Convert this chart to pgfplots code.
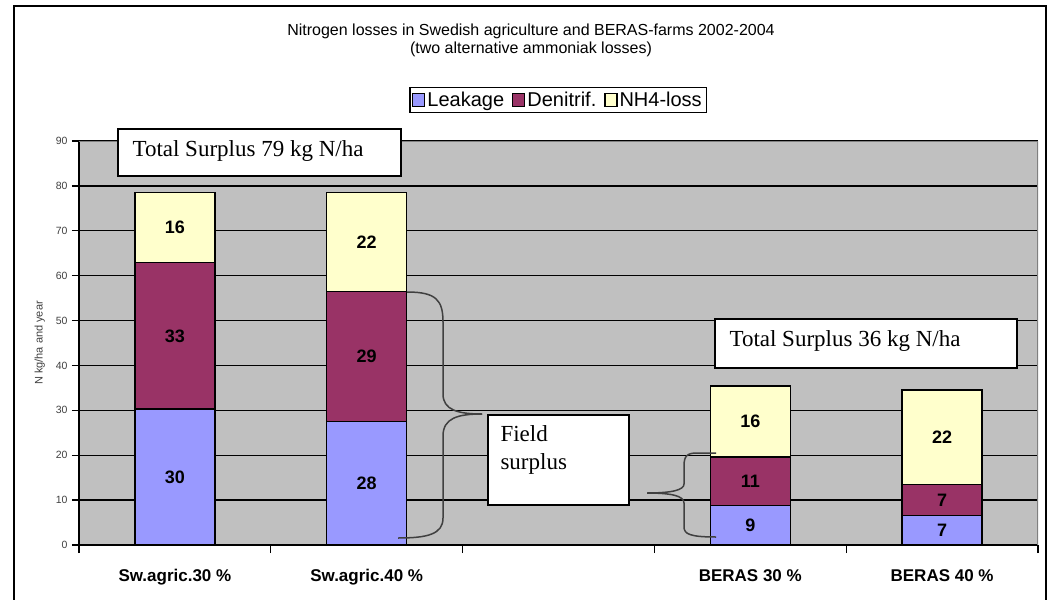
\documentclass[border=0pt]{standalone}
\usepackage{pgfplots}
\usepackage{pgfplotstable}
\pgfplotsset{compat=1.18}
\usepackage{fontspec}
\setmainfont{Liberation Sans}
\newfontfamily\serifbox{Liberation Serif}
\definecolor{leak}{HTML}{9999FF}
\definecolor{deni}{HTML}{993366}
\definecolor{nhf}{HTML}{FFFFCC}
\definecolor{bg}{HTML}{C0C0C0}
\definecolor{bord}{HTML}{808080}

\pgfplotstableread{
x leak deni nh lleak ldeni lnh
0 30.3 32.6 15.6 30 33 16
1 27.5 29.0 22.0 28 29 22
3 8.8 10.8 15.8 9 11 16
4 6.5 7.0 21.0 7 7 22
}\data

\begin{document}
\begin{tikzpicture}[x=1pt,y=1pt]
\path[use as bounding box] (0,0) rectangle (1048,-599);
\draw[line width=2pt] (14,-600) -- (14,-6) -- (1046,-6) -- (1046,-600);
\node[font=\fontsize{16}{19}\selectfont] at (531,-31) {Nitrogen losses in Swedish agriculture and BERAS-farms 2002-2004};
\node[font=\fontsize{16}{19}\selectfont] at (531,-49) {(two alternative ammoniak losses)};
\begin{axis}[
  at={(79pt,-545pt)}, anchor=south west,
  scale only axis, width=959pt, height=404pt,
  xmin=-0.5, xmax=4.5, ymin=0, ymax=90,
  axis background/.style={fill=bg},
  ybar stacked, bar width=80pt,
  axis lines*=left,
  axis line style={black, line width=1.3pt},
  tick align=outside,
  xtick={0,1,3,4},
  xticklabels={Sw.agric.30 \%, Sw.agric.40 \%, BERAS 30 \%, BERAS 40 \%},
  major x tick style={draw=none},
  minor xtick={-0.5,0.5,1.5,2.5,3.5,4.5},
  minor x tick style={black, line width=1.3pt},
  minor tick length=8pt,
  major tick length=7pt,
  ytick={0,10,...,90},
  y tick style={black, line width=1.3pt},
  ymajorgrids,
  major grid style={black, line width=1.3pt},
  xticklabel style={font=\bfseries\fontsize{17}{20}\selectfont, yshift=-14pt},
  yticklabel style={font=\fontsize{10.5}{12}\selectfont, text=black!75, xshift=-1pt},
  /pgf/number format/assume math mode=true,
  ylabel={N kg/ha and year},
  ylabel style={font=\fontsize{11}{13}\selectfont, text=black!75, yshift=4pt},
  legend style={at={(0.4995,1.134)}, anchor=north, legend columns=-1, draw=black, line width=1.5pt,
    font=\fontsize{20}{23}\selectfont, inner sep=2.5pt, /tikz/every even column/.append style={column sep=6pt}},
  legend image code/.code={\draw[#1, line width=1.2pt] (0pt,-6pt) rectangle (12pt,7pt);},
  nodes near coords,
  point meta=explicit symbolic,
  every node near coord/.append style={font=\bfseries\fontsize{18}{21}\selectfont, anchor=center},
]
\addplot[fill=leak, draw=black, line width=1.3pt] table[x=x, y=leak, meta=lleak] {\data};
\addplot[fill=deni, draw=black, line width=1.3pt] table[x=x, y=deni, meta=ldeni] {\data};
\addplot[fill=nhf, draw=black, line width=1.3pt] table[x=x, y=nh, meta=lnh] {\data};
\legend{Leakage, Denitrif., NH4-loss}
\draw[bord, line width=1.5pt] (rel axis cs:0,1) -- (rel axis cs:1,1) -- (rel axis cs:1,0);
\end{axis}
% annotation boxes
\node[draw=black, line width=1.6pt, fill=white, anchor=north west, minimum width=283pt, minimum height=47pt, inner sep=0pt] at (117,-128) {};
\node[font=\serifbox\fontsize{23}{27}\selectfont, anchor=west] at (129,-151) {Total Surplus 79 kg N/ha};
\node[draw=black, line width=1.6pt, fill=white, anchor=north west, minimum width=302pt, minimum height=49pt, inner sep=0pt] at (714,-318) {};
\node[font=\serifbox\fontsize{23}{27}\selectfont, anchor=west] at (726,-341) {Total Surplus 36 kg N/ha};
\node[draw=black, line width=1.6pt, fill=white, anchor=north west, minimum width=141pt, minimum height=90pt, inner sep=0pt] at (487,-414) {};
\node[font=\serifbox\fontsize{23}{28}\selectfont, anchor=north west, align=left] at (497,-422) {Field\\surplus};
% braces
\draw[black!75, line width=1.5pt] (407,-292) .. controls (436,-292) and (443,-300) .. (443,-322) -- (443,-394)
  .. controls (443,-410) and (458,-414) .. (482,-414);
\draw[black!75, line width=1.5pt] (482,-414) .. controls (458,-414) and (443,-418) .. (443,-436) -- (443,-518)
  .. controls (443,-534) and (428,-538) .. (398,-538);
\draw[black!75, line width=1.5pt] (716,-453) -- (697,-453) .. controls (687,-453) and (684,-456) .. (684,-466) -- (684,-484)
  .. controls (684,-490) and (672,-493) .. (647,-493);
\draw[black!75, line width=1.5pt] (647,-493) .. controls (672,-493) and (684,-496) .. (684,-503) -- (684,-527)
  .. controls (684,-534) and (690,-537) .. (716,-537);
\end{tikzpicture}
\end{document}
